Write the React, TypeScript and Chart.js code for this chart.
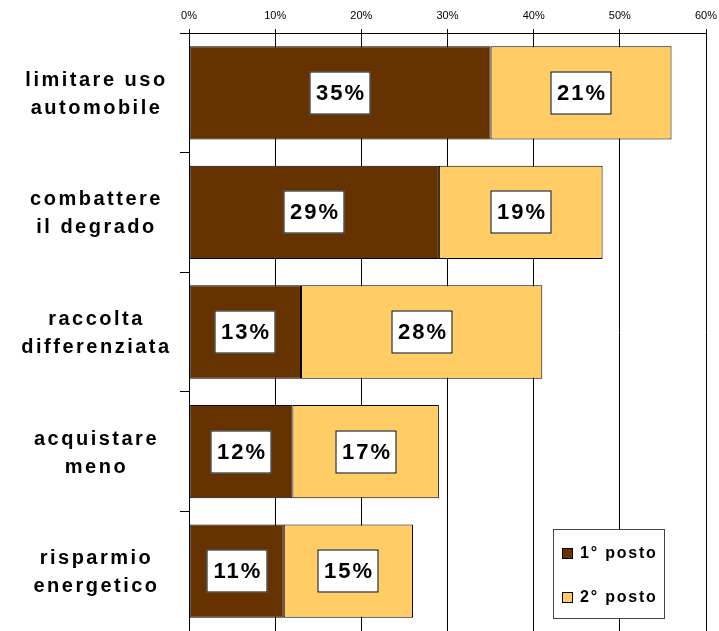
import React, { useEffect, useRef } from "react";
import { Chart, registerables } from "chart.js";

Chart.register(...registerables);

const categories: string[][] = [
  ["limitare uso", "automobile"],
  ["combattere", "il degrado"],
  ["raccolta", "differenziata"],
  ["acquistare", "meno"],
  ["risparmio", "energetico"],
];
const firstPlace = [35, 29, 13, 12, 11];
const secondPlace = [21, 19, 28, 17, 15];
const seriesLabels = ["1° posto", "2° posto"];
const seriesColors = ["#663300", "#FFCC66"];
const xMin = 0;
const xMax = 60;
const xStep = 10;

const FONT = '"Liberation Sans", Arial, sans-serif';

const overlayPlugin = {
  id: "overlay",
  afterDatasetsDraw(chart: any) {
    const ctx = chart.ctx as CanvasRenderingContext2D;
    ctx.save();
    chart.data.datasets.forEach((ds: any, di: number) => {
      const meta = chart.getDatasetMeta(di);
      meta.data.forEach((el: any, i: number) => {
        const { x, y, base } = el.getProps(["x", "y", "base"], true);
        const cx = Math.round((x + base) / 2);
        const cy = Math.round(y);
        const w = 61;
        const h = 43;
        ctx.fillStyle = "#ffffff";
        ctx.fillRect(cx - w / 2, cy - h / 2, w, h);
        ctx.strokeStyle = "#000000";
        ctx.lineWidth = 1;
        ctx.strokeRect(cx - w / 2 + 0.5, cy - h / 2 + 0.5, w - 1, h - 1);
        ctx.fillStyle = "#000000";
        ctx.font = "bold 22px " + FONT;
        (ctx as any).letterSpacing = "2px";
        ctx.textAlign = "center";
        ctx.textBaseline = "middle";
        ctx.fillText(ds.data[i] + "%", cx + 1, cy + 1);
      });
    });
    ctx.restore();
  },
  afterDraw(chart: any) {
    const ctx = chart.ctx as CanvasRenderingContext2D;
    const yScale = chart.scales.y;
    ctx.save();
    // category labels
    ctx.fillStyle = "#000000";
    ctx.font = "bold 20px " + FONT;
    (ctx as any).letterSpacing = "2.5px";
    ctx.textAlign = "center";
    ctx.textBaseline = "alphabetic";
    const lineH = 28;
    categories.forEach((lines, i) => {
      const cy = yScale.getPixelForValue(i);
      const n = lines.length;
      lines.forEach((line, li) => {
        const baseline = cy + (li - (n - 1) / 2) * lineH + 7;
        ctx.fillText(line, 96.5, baseline);
      });
    });

    // legend
    const lx = 553;
    const ly = 529;
    const lw = 112;
    const lh = 90;
    ctx.fillStyle = "#ffffff";
    ctx.fillRect(lx, ly, lw, lh);
    ctx.strokeStyle = "#444444";
    ctx.lineWidth = 1;
    ctx.strokeRect(lx + 0.5, ly + 0.5, lw - 1, lh - 1);
    chart.data.datasets.forEach((ds: any, di: number) => {
      const iy = ly + 24 + di * 44;
      ctx.fillStyle = ds.backgroundColor;
      ctx.fillRect(lx + 9, iy - 5, 11, 11);
      ctx.strokeStyle = "#000000";
      ctx.strokeRect(lx + 9.5, iy - 4.5, 10, 10);
      ctx.fillStyle = "#000000";
      ctx.font = "bold 16px " + FONT;
      (ctx as any).letterSpacing = "1.8px";
      ctx.textAlign = "left";
      ctx.textBaseline = "middle";
      ctx.fillText(ds.label, lx + 27, iy + 1);
    });
    ctx.restore();
  },
};

export default function App() {
  const canvasRef = useRef<HTMLCanvasElement | null>(null);

  useEffect(() => {
    document.body.style.margin = "0";
    const canvas = canvasRef.current;
    if (!canvas) return;
    const chart = new Chart(canvas, {
      type: "bar",
      data: {
        labels: categories.map((c) => c.join(" ")),
        datasets: [
          {
            label: seriesLabels[0],
            data: firstPlace,
            backgroundColor: seriesColors[0],
            borderColor: "#000000",
            borderWidth: 1,
            borderSkipped: false,
          },
          {
            label: seriesLabels[1],
            data: secondPlace,
            backgroundColor: seriesColors[1],
            borderColor: "#000000",
            borderWidth: 1,
            borderSkipped: false,
          },
        ],
      },
      options: {
        indexAxis: "y",
        animation: false,
        responsive: true,
        maintainAspectRatio: false,
        layout: { padding: { left: 0, right: 13, top: 0, bottom: 0 } },
        datasets: {
          bar: { categoryPercentage: 1, barPercentage: 0.78 },
        },
        plugins: {
          legend: { display: false },
          tooltip: { enabled: false },
        },
        scales: {
          x: {
            type: "linear",
            position: "top",
            stacked: true,
            min: xMin,
            max: xMax,
            ticks: {
              stepSize: xStep,
              color: "#000000",
              font: { family: FONT, size: 11 },
              padding: 6,
              callback: (v: any) => v + "%",
            },
            grid: {
              color: "#000000",
              lineWidth: 1,
              drawTicks: true,
              tickLength: 4,
            },
            border: { display: true, color: "#000000", width: 1 },
            afterFit: (s: any) => {
              s.height = 33;
              s.paddingLeft = 0;
              s.paddingRight = 0;
            },
          },
          y: {
            type: "category",
            stacked: true,
            ticks: { display: false },
            grid: {
              drawOnChartArea: false,
              drawTicks: true,
              tickLength: 9,
              color: "#000000",
              offset: true,
            },
            border: { display: true, color: "#000000", width: 1 },
            afterFit: (s: any) => {
              s.width = 189;
              s.paddingTop = 0;
              s.paddingBottom = 0;
            },
          },
        },
      },
      plugins: [overlayPlugin],
    });
    return () => chart.destroy();
  }, []);

  return (
    <div style={{ position: "relative", width: "719px", height: "631px" }}>
      <canvas ref={canvasRef} />
    </div>
  );
}
